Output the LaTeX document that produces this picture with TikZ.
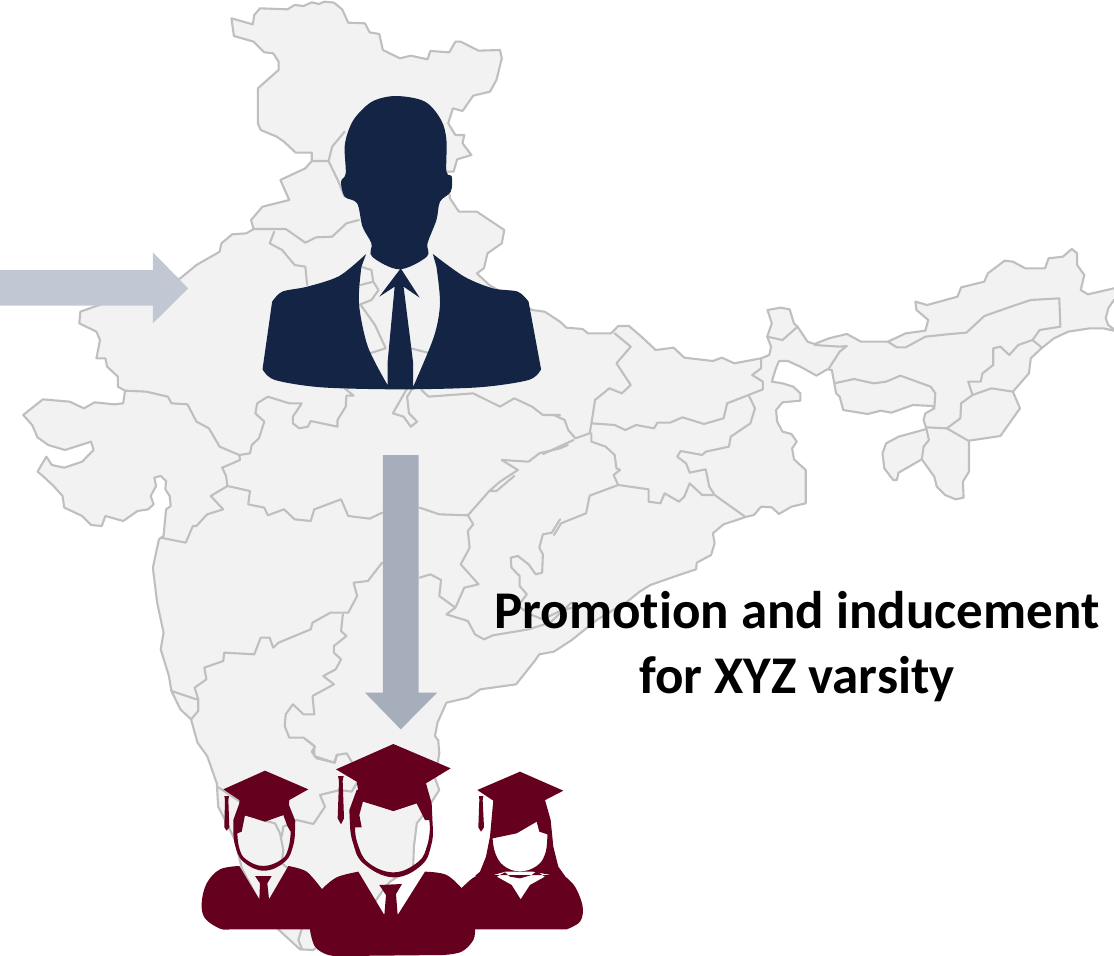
\documentclass[tikz,border=0pt]{standalone}
\usepackage{fontspec}
\setmainfont[Ligatures=NoCommon]{Carlito}
\definecolor{mapfill}{HTML}{F2F2F2}
\definecolor{mapline}{HTML}{BFBFBF}
\definecolor{navy}{HTML}{132445}
\definecolor{maroon}{HTML}{65001E}
\definecolor{arrowa}{HTML}{C1C7D3}
\definecolor{arrowb}{HTML}{A6ADBB}
\tikzset{
  mapshape/.style={fill=mapfill,draw=mapline,line width=2.1pt,line join=round},
  border/.style={draw=mapline,line width=2.1pt,line join=round,line cap=round},
  frameA/.style={x=0.35714pt,y=-0.33333pt},
  frameS/.style={x=0.33333pt,y=-0.33333pt,shift={(200pt,-740pt)}},
  caption/.style={align=center,font=\fontsize{53}{65}\selectfont\bfseries,inner sep=0pt,text=black}
}
\begin{document}
\begin{tikzpicture}
\useasboundingbox (0pt,0pt) rectangle (1114pt,-956pt);
\clip (0pt,0pt) rectangle (1114pt,-956pt);
\begin{scope}[frameA]
% outer outline of the map
\path[mapshape] plot coordinates {
(648,55)(708,73)(712,45)(728,25)(805,28)(825,15)(850,18)(873,7)(893,12)(908,5)(935,8)(958,28)(975,68)(1022,70)(1035,97)(1062,102)(1072,150)(1120,175)(1150,167)(1197,178)(1205,153)(1258,157)(1275,125)(1290,125)(1340,152)(1400,150)(1405,175)(1390,240)(1372,275)(1325,287)(1295,333)(1268,325)(1255,370)(1275,405)(1300,405)(1295,430)(1320,465)(1280,478)(1270,515)(1250,515)(1260,595)(1285,635)(1335,635)(1412,690)(1405,730)(1365,760)(1355,805)(1335,820)(1370,855)(1490,930)(1525,935)(1568,965)
(1586,983)(1631,987)(1646,1000)(1711,1000)(1731,978)(1761,978)(1796,1010)(1836,1050)(1886,1043)(1916,1073)(1996,1083)(2021,1073)(2056,1090)(2131,1075)(2154,1065)(2159,1040)(2148,1010)(2161,970)(2149,930)(2186,923)(2211,928)(2223,970)(2233,980)(2261,1025)(2281,1032)(2321,1015)(2371,1002)(2411,1025)(2486,1025)(2536,1000)(2591,992)(2599,960)(2566,930)(2563,905)(2596,915)(2681,890)(2691,862)(2756,845)(2766,820)(2813,782)(2836,785)(2871,805)(2926,805)(2936,775)(2976,770)(3001,747)(3016,760)(3016,795)(3036,825)(3026,870)(3046,883)(3119,865)(3140,860)(3140,890)(3119,900)(3103,925)(3096,955)(3103,975)(3119,988)(3140,1000)(3119,992)(3089,985)(3051,985)(2991,995)(2951,1015)(2916,1045)(2886,1075)(2881,1120)(2836,1175)(2856,1225)(2801,1308)(2713,1322)(2713,1415)(2696,1445)(2698,1493)(2676,1498)(2646,1485)(2623,1460)(2616,1430)(2581,1378)(2516,1418)(2511,1440)(2501,1440)(2476,1405)(2471,1360)(2481,1330)(2516,1310)(2594,1287)(2586,1260)(2591,1240)(2616,1225)(2611,1218)(2556,1215)(2496,1238)(2466,1232)(2429,1242)(2361,1230)(2351,1190)(2341,1180)(2336,1150)(2329,1110)(2316,1108)(2286,1127)(2241,1100)(2206,1083)(2181,1083)(2171,1110)(2161,1145)(2191,1150)(2221,1160)(2241,1180)(2241,1202)(2191,1207)(2173,1230)(2176,1265)(2191,1295)(2216,1302)(2231,1325)(2218,1345)(2223,1378)(2256,1410)(2256,1510)(2216,1520)(2181,1542)(2161,1522)(2131,1520)(2111,1545)(2091,1550)(2026,1573)(1996,1600)(2001,1630)(1991,1665)(1951,1688)(1949,1708)(1901,1725)(1821,1755)(1791,1775)(1756,1805)(1671,1860)(1601,1920)(1551,1955)
(1510,1963)(1497,1983)(1445,2053)(1345,2068)(1310,2093)(1250,2108)(1225,2168)(1218,2208)(1228,2223)(1227,2220)(1230,2260)(1218,2335)(1230,2370)(1209,2405)(1185,2445)(1167,2470)(1159,2540)(1157,2600)(1092,2645)(1073,2670)(1050,2705)(877,2850)(840,2848)(779,2788)(719,2690)(677,2605)(658,2520)(630,2460)(611,2420)(607,2350)(580,2268)(553,2228)(535,2158)(505,2128)(480,2073)(473,2028)(450,1948)(458,1898)(440,1808)(428,1703)(445,1618)(458,1608)(465,1528)(478,1518)(475,1488)(463,1468)(465,1443)(450,1428)(432,1433)(437,1458)(422,1488)(430,1513)(415,1528)(385,1533)(345,1563)(295,1548)(285,1578)(255,1575)(230,1548)(180,1523)(175,1488)(150,1458)(120,1428)(105,1415)(130,1370)(145,1395)(180,1403)(230,1385)(262,1350)(255,1325)(182,1350)(135,1335)(105,1312)(90,1275)(65,1245)(120,1198)(195,1205)(235,1225)(265,1207)(320,1213)(345,1210)(350,1172)(330,1160)(330,1130)(300,1100)(295,1075)(270,1075)(280,1020)(270,995)(222,970)(225,935)(270,918)(505,835)(550,795)(615,755)(620,730)(650,703)(690,700)(710,687)(703,660)(735,620)(810,600)(785,540)(855,505)(873,483)(873,458)(828,458)(795,425)(775,410)(730,390)(722,370)(722,265)(780,210)(780,185)(765,160)(740,157)(710,125)(655,108)
} -- cycle;
% borders, north and west
\draw[border] (873,483)--(920,483)--(930,440)--(965,395);
\draw[border] (920,483)--(950,550)--(965,590);
\draw[border] (710,687)--(800,687)--(855,728)--(885,712)--(930,710)--(970,670)--(1005,660);
\draw[border] (768,695)--(755,730)--(790,750)--(825,795)--(855,800)--(860,855);
\draw[border] (1010,800)--(1040,810)--(1045,845)--(1060,870)--(1040,900)--(1005,915);
\draw[border] (1010,855)--(1045,845);
\draw[border] (1010,915)--(1050,975)--(1080,1045)--(1035,1060);
\draw[border] (1150,1045)--(1205,1060);
\draw[border] (350,1172)--(410,1175)--(470,1190)--(480,1210)--(525,1213)--(550,1265)--(585,1285)--(615,1340)--(670,1365)--(700,1360)--(705,1335)--(725,1315)--(740,1265)--(715,1240)--(720,1210)--(750,1190)--(810,1210)--(845,1210)--(820,1250)--(820,1270)--(838,1285)--(862,1280)--(870,1263)--(945,1280)--(945,1260)--(968,1220)--(970,1187)--(990,1187)--(965,1165);
\draw[border] (670,1365)--(672,1380)--(622,1403)--(633,1428)--(637,1458);
\draw[border] (1140,1165)--(1100,1240)--(1130,1250)--(1150,1280)--(1168,1265)--(1145,1240)--(1140,1190)--(1155,1165);
\draw[border] (1180,1170)--(1200,1190)--(1325,1180)--(1400,1220)--(1440,1195)--(1490,1220)--(1520,1245)--(1568,1245)--(1551,1245);
\draw[border] (1405,1380)--(1480,1385)--(1510,1360)--(1568,1345)--(1590,1335);
\draw[border] (1405,1380)--(1450,1410)--(1400,1445)--(1370,1473);
\begin{scope}[shift={(0,1428)}]
\draw[border] (637,30)--(700,45)--(695,85)--(740,95)--(750,118)--(795,100)--(825,130)--(870,135)--(880,100)--(955,70)--(975,120)--(1035,128)--(1070,110);
\draw[border] (1175,95)--(1230,115)--(1310,118)--(1370,45)--(1390,45)--(1440,0);
\draw[border] (637,30)--(590,60)--(625,100)--(580,115)--(550,150)--(540,150)--(520,200)--(450,185);
\draw[border] (1070,260)--(1030,315)--(990,320)--(1000,360)--(975,410)--(925,410)--(875,440)--(870,460)--(780,500)--(765,515)--(755,485)--(730,485)--(712,535)--(628,530)--(625,555)--(572,575)--(578,610)--(545,635)--(555,670)--(555,705)--(535,730);
\draw[border] (480,645)--(550,670);
\draw[border] (960,415)--(955,465)--(970,480)--(935,510)--(935,530)--(955,550)--(940,580)--(905,600)--(935,625)--(875,660)--(880,715)--(850,715)--(820,685)--(800,715)--(797,750)--(810,785)--(850,785)--(880,810)--(880,840)--(935,860)--(945,835);
\draw[border] (1175,305)--(1205,295)--(1235,312)--(1230,360)--(1275,395)--(1300,335)--(1340,325)--(1290,265)--(1315,215)--(1310,165)--(1325,145)--(1310,118);
\draw[border] (1275,395)--(1250,415)--(1310,435)--(1330,475)--(1355,490)--(1380,478)--(1480,460)--(1540,440)--(1600,380);
\draw[border] (1568,130)--(1545,170)--(1520,175)--(1510,215)--(1520,235)--(1518,290)--(1500,295)--(1480,265)--(1450,240)--(1430,245)--(1432,275)--(1455,300)--(1455,330)--(1475,355)--(1450,390)--(1485,415)--(1520,430)--(1568,405)--(1620,390);
\end{scope}
\begin{scope}[shift={(1551,690)}]
\draw[border] (170,310)--(215,350)--(175,400)--(215,465)--(190,490)--(155,475)--(115,510)--(105,580)--(100,610)--(60,625)--(40,600)--(30,570)--(0,555);
\draw[border] (105,580)--(170,585)--(200,600)--(230,585)--(280,595)--(290,578)--(325,578)--(360,562)--(420,582)--(475,565)--(485,520)--(545,495)--(585,478)--(585,455)--(555,435)--(580,415)--(580,385);
\draw[border] (545,495)--(563,535)--(550,580)--(495,620)--(490,650)--(425,665)--(415,675)--(355,663)--(345,680)--(370,700)--(380,728)--(425,718)--(435,770)--(450,795)--(535,860);
\draw[border] (105,610)--(105,635)--(145,650)--(170,675)--(175,715)--(185,720)--(167,735)--(180,765)--(265,778)--(265,815)--(298,820)--(310,790)--(350,815)--(365,800)--(380,760)--(415,795)--(445,795);
\draw[border] (180,765)--(100,797)--(90,850)--(20,880)--(0,915);
\draw[border] (-30,672)--(55,630);
\draw[border] (597,320)--(640,330)--(682,290);
\draw[border] (730,345)--(800,350)--(820,348)--(800,365)--(770,415);
\draw[border] (935,335)--(960,352)--(985,352)--(1040,320)--(1110,312)--(1155,308)--(1205,258)--(1285,228)--(1335,210)--(1415,205)--(1418,290)--(1360,300)--(1340,330)--(1300,345)--(1275,375)--(1250,350)--(1230,355)--(1230,405)--(1200,430)--(1195,455)--(1160,455)--(1172,495)--(1140,520)--(1138,565)--(1100,595)--(1043,592);
\draw[border] (1172,495)--(1225,475)--(1285,485);
\draw[border] (1100,595)--(1160,632);
\draw[border] (1043,597)--(1050,630)--(1035,650)--(1030,688);
\draw[border] (785,460)--(840,447)--(895,460)--(930,455)--(970,437)--(1055,470)--(1068,490)--(1065,535);
\draw[border] (1340,330)--(1365,352);
\end{scope}
% arrows
\fill[arrowa] (-10,810)--(428,810)--(428,757)--(527,865)--(428,970)--(428,917)--(-10,917)--cycle;
\fill[arrowb] (1072,1365)--(1172,1365)--(1172,2078)--(1224,2078)--(1122,2188)--(1022,2078)--(1072,2078)--cycle;
% businessman
\fill[navy] plot[smooth cycle,tension=.55] coordinates {(1110,288)(1045,303)(1000,345)(978,385)(965,440)(968,520)(955,545)(965,590)(1000,610)(1015,680)(1040,730)(1042,770)(1118,808)(1195,770)(1197,730)(1222,660)(1232,605)(1262,575)(1265,530)(1250,515)(1250,420)(1235,360)(1190,305)};
\fill[navy] (1025,762)--plot[smooth,tension=.5] coordinates {(1025,762)(950,828)(860,860)(790,875)(762,905)}
 --(735,1108)--plot[smooth,tension=.5] coordinates {(735,1108)(770,1140)(900,1162)(1120,1168)(1340,1162)(1480,1140)(1515,1108)}
 --(1480,905)--plot[smooth,tension=.5] coordinates {(1480,905)(1450,875)(1380,865)(1300,830)(1212,762)}
 --plot[smooth,tension=.5] coordinates {(1222,800)(1232,910)(1215,1010)(1157,1160)}
 --(1157,1090)--(1130,860)--(1175,893)--(1122,805)--(1062,890)--(1105,860)--(1085,1090)--(1085,1160)
 --plot[smooth,tension=.5] coordinates {(1085,1155)(1030,1040)(1005,910)(1012,800)}--cycle;
\end{scope}
% graduates
\begin{scope}[frameS]
% map borders in the south
\draw[border] (320,0)--(345,20)--(335,35)--(350,55)--(405,68)--(410,45)--(440,40)--(455,65);
\draw[border] (470,130)--(455,155)--(420,150)--(360,165)--(375,200)--(340,252)--(290,240)--(250,260)--(245,290);
\draw[border] (170,235)--(225,250)--(240,280)--(250,330)--(245,370)--(265,385);
\draw[border] (52,140)--(120,185);
\draw[border] (305,568)--(295,600)--(305,625);
% student 1
\fill[maroon] (70,148)--(195,92)--(325,148)--(268,180)--(265,220)--(195,243)--(118,222)--(118,180)--cycle;
\fill[maroon] (73,168)--(87,168)--(85,180)--(88,262)--(80,272)--(73,262)--(75,180)--cycle;
\fill[maroon,even odd rule] (118,190)--(100,240)--plot[smooth,tension=.7] coordinates {(100,265)(105,315)(130,365)(192,392)(255,365)(280,315)(285,265)}--(285,240)--(265,190)--(195,170)--cycle
 (125,275)--(135,225)--(195,245)--(250,225)--(262,258)--(272,275)--plot[smooth,tension=.7] coordinates {(272,280)(265,325)(245,358)(190,378)(138,358)(118,325)(112,280)}--cycle;
\fill[maroon] plot[smooth,tension=.6] coordinates {(118,378)(60,388)(20,430)(5,490)(15,535)(60,566)(90,568)}
 --(340,568)--plot[smooth,tension=.5] coordinates {(368,450)(320,395)(265,378)}
 --(207,478)--(202,430)--(215,408)--(165,408)--(180,430)--(178,478)--cycle;
% student 3
\fill[maroon] (832,150)--(960,95)--(1090,152)--(1032,182)--(880,182)--cycle;
\fill[maroon] (837,168)--(850,168)--(848,180)--(852,262)--(843,275)--(835,262)--(838,180)--cycle;
\fill[maroon,even odd rule] (880,180)--(870,290)--(858,350)--(840,395)--(825,408)--(870,408)--(915,395)--(1000,395)--(1068,408)--(1095,408)--(1075,380)--(1060,320)--(1052,240)--(1035,180)--cycle
 (878,295)--(950,280)--(1010,245)--(1018,275)--(1042,283)--plot[smooth,tension=.7] coordinates {(1042,285)(1036,340)(1010,378)(960,394)(912,378)(886,340)(878,297)}--cycle;
\fill[maroon,even odd rule] plot[smooth,tension=.6] coordinates {(770,460)(825,410)(880,405)}
 --(1090,405)--plot[smooth,tension=.6] coordinates {(1090,405)(1125,440)(1148,500)(1140,545)(1100,568)}
 --(800,568)--cycle
 (890,410)--(915,397)--(930,410)--(960,415)--(995,405)--(1010,394)--(1035,410)--(990,435)--(962,478)--(935,435)--cycle;
% student 2
\fill[maroon] (408,88)--(580,12)--(752,85)--(678,130)--(672,182)--(580,213)--(480,182)--(470,125)--cycle;
\fill[maroon] (414,108)--(431,108)--(428,122)--(432,235)--(423,253)--(413,235)--(417,122)--cycle;
\fill[maroon,even odd rule] (470,150)--(448,210)--plot[smooth,tension=.7] coordinates {(450,255)(458,305)(490,370)(580,412)(665,375)(695,310)(698,255)}--(695,190)--(678,130)--(580,120)--cycle
 (465,262)--(485,262)--(478,225)--(490,180)--(580,213)--(650,190)--(675,240)--(688,240)--plot[smooth,tension=.7] coordinates {(690,262)(682,315)(655,365)(582,397)(505,368)(473,312)(465,265)}--cycle;
\fill[maroon] (330,568)--plot[smooth,tension=.6] coordinates {(330,570)(345,620)(385,645)(430,648)}
 --(730,645)--plot[smooth,tension=.6] coordinates {(730,645)(785,635)(820,600)(825,565)}
 --(850,500)--plot[smooth,tension=.6] coordinates {(790,450)(740,405)(675,395)}
 --(593,525)--(588,462)--(606,432)--(538,435)--(558,465)--(553,525)--(475,395)
 --plot[smooth,tension=.6] coordinates {(475,395)(410,412)(365,448)}--cycle;
\end{scope}
\node[caption] (cap) at (797pt,-647pt) {Promotion and inducement\\for XYZ varsity};
\end{tikzpicture}
\end{document}
